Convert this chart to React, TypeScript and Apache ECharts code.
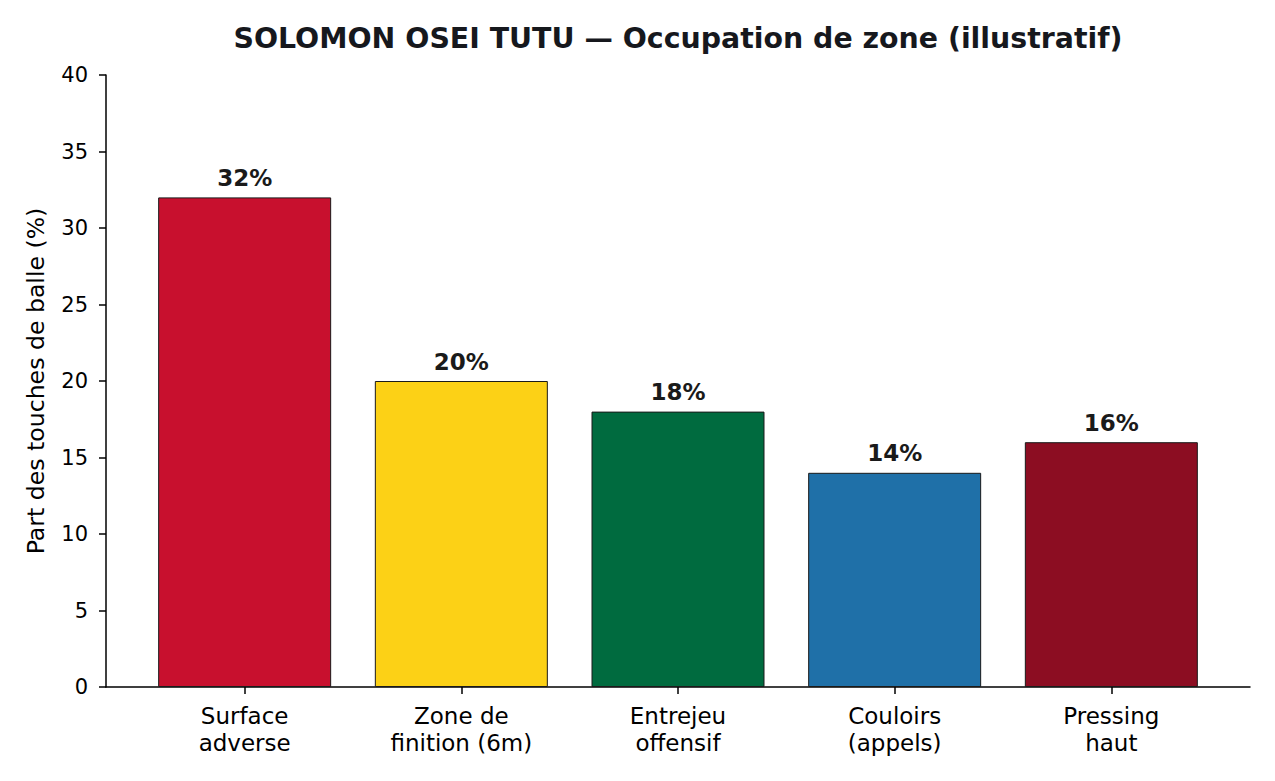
import React, { useEffect, useRef } from "react";
import * as echarts from "echarts";

const categories = ["Surface\nadverse", "Zone de\nfinition (6m)", "Entrejeu\noffensif", "Couloirs\n(appels)", "Pressing\nhaut"];
const values = [32, 20, 18, 14, 16];
const colors = ["#C8102E", "#FCD116", "#006B3F", "#1F70A8", "#8C0D22"];
const yTicks = [0, 5, 10, 15, 20, 25, 30, 35, 40];
const positions = categories.map((_, i) => i);

const FONT = "DejaVu Sans";

export default function App() {
  const ref = useRef<HTMLDivElement>(null);
  useEffect(() => {
    document.body.style.margin = "0";
    const chart = echarts.init(ref.current!, null, { renderer: "svg" });
    chart.setOption({
      animation: false,
      backgroundColor: "#ffffff",
      title: {
        text: "SOLOMON OSEI TUTU — Occupation de zone (illustratif)",
        left: 673,
        textAlign: "center",
        top: 19,
        textStyle: { fontFamily: FONT, fontSize: 28.4, fontWeight: "bold", color: "#16181d" },
      },
      grid: { left: 106, right: 25, top: 75, bottom: 94 },
      xAxis: {
        type: "value",
        min: -0.64,
        max: 4.64,
        splitLine: { show: false },
        axisLine: { show: true, onZero: false, lineStyle: { color: "#000", width: 1.5 } },
        axisTick: { show: true, length: 7, customValues: positions, lineStyle: { color: "#000", width: 1.5 } },
        axisLabel: {
          customValues: positions,
          formatter: (v: number) => categories[Math.round(v)] ?? "",
          fontFamily: FONT,
          fontSize: 23,
          lineHeight: 27,
          color: "#000",
          margin: 15,
        },
      },
      yAxis: {
        type: "value",
        min: 0,
        max: 40,
        interval: 5,
        name: "Part des touches de balle (%)",
        nameLocation: "middle",
        nameGap: 58,
        nameTextStyle: { fontFamily: FONT, fontSize: 23.6, color: "#000" },
        splitLine: { show: false },
        axisLine: { show: true, onZero: false, lineStyle: { color: "#000", width: 1.5 } },
        axisTick: { show: true, length: 7, lineStyle: { color: "#000", width: 1.5 } },
        axisLabel: { fontFamily: FONT, fontSize: 21, color: "#000", margin: 18, formatter: (v: number) => (yTicks.includes(v) ? String(v) : "") },
      },
      series: [
        {
          type: "bar",
          barWidth: 173,
          data: values.map((v, i) => ({
            value: [positions[i], v],
            itemStyle: { color: colors[i], borderColor: "#1a1a1a", borderWidth: 1 },
          })),
          label: {
            show: true,
            position: "top",
            distance: 8,
            formatter: (p: any) => `${p.value[1]}%`,
            fontFamily: FONT,
            fontSize: 23,
            fontWeight: "bold",
            color: "#1a1a1a",
          },
        },
      ],
    });
    return () => chart.dispose();
  }, []);
  return <div ref={ref} style={{ width: 1275, height: 781 }} />;
}
